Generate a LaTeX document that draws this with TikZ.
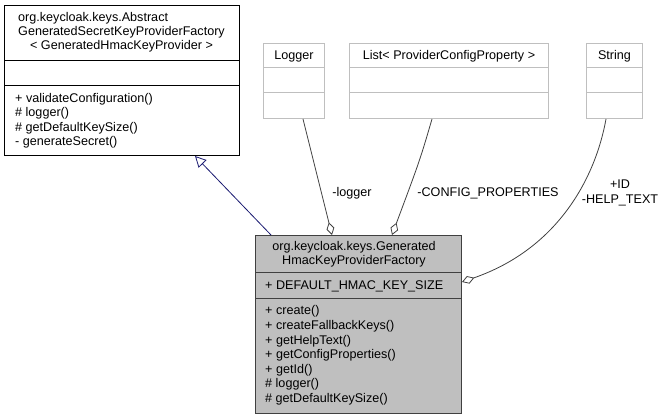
\documentclass[tikz,border=0pt]{standalone}
\usepackage{fontspec}
\setmainfont{Liberation Sans}
\usepackage{calc}
\usetikzlibrary{arrows.meta}

\definecolor{edgegray}{HTML}{404040}
\definecolor{fillgray}{HTML}{BFBFBF}
\definecolor{framegray}{HTML}{BFBFBF}
\definecolor{inheritblue}{HTML}{191970}

\begin{document}
\begin{tikzpicture}[x=1pt,y=-1pt,font=\fontsize{12.6}{14}\selectfont]
  % Estilos de cajas y conectores
  \tikzset{
    class_box/.style={rectangle,draw=black,fill=white,line width=1pt,anchor=north west,inner sep=0pt},
    main_box/.style={class_box,draw=edgegray,fill=fillgray},
    ext_box/.style={class_box,draw=framegray},
    member_text/.style={anchor=base west,inner sep=0pt},
    title_text/.style={align=center,inner sep=0pt},
    inherit_edge/.style={draw=inheritblue,line width=0.8pt,-{Triangle[open,length=11pt,width=11pt,fill=white]}},
    agg_edge/.style={draw=edgegray,line width=0.8pt,-{Diamond[open,length=13pt,width=8pt,fill=white]}},
    edge_label/.style={inner sep=0pt,align=center}
  }
  \useasboundingbox (0,0) rectangle (666,419);

  % Clase base
  \node[class_box,minimum width=235,minimum height=150] (base) at (4,5) {};
  \draw[line width=1pt] (base.west |- 0,61) -- (base.east |- 0,61);
  \draw[line width=1pt] (base.west |- 0,86) -- (base.east |- 0,86);
  \node[title_text] (basetitle) at (121.5,32) {\makebox[\widthof{GeneratedSecretKeyProviderFactory}][l]{org.keycloak.keys.Abstract}\\GeneratedSecretKeyProviderFactory\\< GeneratedHmacKeyProvider >};
  \foreach \txt [count=\i] in {{+ validateConfiguration()},{\# logger()},{\# getDefaultKeySize()},{- generateSecret()}}
    \node[member_text] (basem\i) at (15,88.2+14.3*\i) {\txt};

  % Clases externas
  \node[ext_box,minimum width=61,minimum height=75] (logger) at (263,43) {};
  \node[ext_box,minimum width=199,minimum height=75] (props) at (349,43) {};
  \node[ext_box,minimum width=56,minimum height=75] (string) at (586,43) {};
  \foreach \n in {logger,props,string} {
    \draw[framegray,line width=1pt] (\n.west |- 0,68) -- (\n.east |- 0,68);
    \draw[framegray,line width=1pt] (\n.west |- 0,93) -- (\n.east |- 0,93);
  }
  \node[inner sep=0pt] (loggername) at (logger.north |- 0,56) {Logger};
  \node[inner sep=0pt] (propsname) at (props.north |- 0,56) {List< ProviderConfigProperty >};
  \node[inner sep=0pt] (stringname) at (string.north |- 0,56) {String};

  % Clase principal
  \node[main_box,minimum width=206,minimum height=178] (main) at (255,235) {};
  \draw[edgegray,line width=1pt] (main.west |- 0,273) -- (main.east |- 0,273);
  \draw[edgegray,line width=1pt] (main.west |- 0,299) -- (main.east |- 0,299);
  \node[title_text] (maintitle) at (354,254) {org.keycloak.keys.Generated\\HmacKeyProviderFactory};
  \node[member_text] (mainattr) at (265,289.5) {+ DEFAULT\_HMAC\_KEY\_SIZE};
  \foreach \txt [count=\i] in {{+ create()},{+ createFallbackKeys()},{+ getHelpText()},{+ getConfigProperties()},{+ getId()},{\# logger()},{\# getDefaultKeySize()}}
    \node[member_text] (mainm\i) at (265,300.5+14.5*\i) {\txt};

  % Conectores
  \draw[inherit_edge] (271,0 |- main.north) -- (195,0 |- base.south);
  \draw[agg_edge] (303,0 |- logger.south) -- (332,0 |- main.north);
  \draw[agg_edge] (432,0 |- props.south) .. controls (420,160) .. (392,0 |- main.north);
  \draw[agg_edge] (606,0 |- string.south) .. controls (596,175) and (560,248) .. (main.east |- 0,282);

  % Etiquetas
  \node[edge_label] (loggerlabel) at (352,193) {-logger};
  \node[edge_label] (propslabel) at (488,193) {-CONFIG\_PROPERTIES};
  \node[edge_label,font=\fontsize{12.6}{14.5}\selectfont] (stringlabel) at (620,193) {+ID\\-HELP\_TEXT};
\end{tikzpicture}
\end{document}
